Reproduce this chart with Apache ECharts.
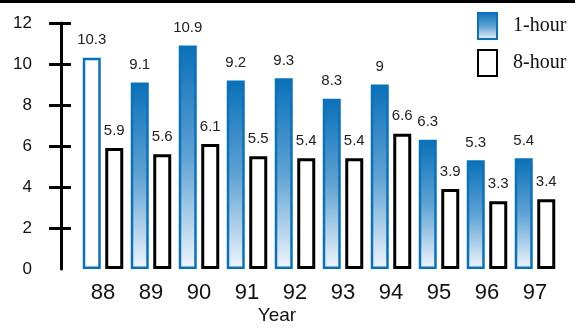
<!DOCTYPE html>
<html>
<head>
<meta charset="utf-8">
<script src="https://cdn.jsdelivr.net/npm/echarts@6/dist/echarts.min.js"></script>
<style>html,body{margin:0;padding:0;background:#fff;}#c{width:575px;height:331px;}</style>
</head>
<body>
<div id="c"></div>
<script>
var categories = ['88', '89', '90', '91', '92', '93', '94', '95', '96', '97'];
var oneHour = [10.3, 9.1, 10.9, 9.2, 9.3, 8.3, 9, 6.3, 5.3, 5.4];
var eightHour = [5.9, 5.6, 6.1, 5.5, 5.4, 5.4, 6.6, 3.9, 3.3, 3.4];
var yTicks = [0, 2, 4, 6, 8, 10, 12];
var yTickMarks = [2, 4, 6, 8, 10, 12];

var blue = '#0a72bb';
var grad = new echarts.graphic.LinearGradient(0, 0, 0, 1, [
  {offset: 0, color: '#0a70b9'},
  {offset: 0.5, color: '#5fa2d3'},
  {offset: 1, color: '#f0f6fc'}
]);

var oneHourData = oneHour.map(function (v, i) {
  if (i === 0) return {value: v, itemStyle: {color: '#ffffff', borderColor: blue}};
  return v;
});

var chart = echarts.init(document.getElementById('c'), null, {renderer: 'canvas'});
chart.setOption({
  animation: false,
  textStyle: {fontFamily: 'Liberation Sans, Arial, sans-serif'},
  grid: {left: 79, right: 16, top: 23, bottom: 62},
  legend: {
    orient: 'vertical',
    left: 477,
    top: 12,
    padding: 0,
    itemWidth: 19,
    itemHeight: 26,
    itemGap: 9,
    textStyle: {fontFamily: 'Liberation Serif, Times New Roman, serif', fontSize: 20, color: '#111', padding: [0, 0, 0, 11]},
    data: [
      {name: '1-hour', icon: 'rect'},
      {name: '8-hour', icon: 'rect'}
    ]
  },
  xAxis: {
    type: 'category',
    data: categories,
    axisLine: {show: false},
    axisTick: {show: false},
    axisLabel: {fontSize: 22, color: '#111', margin: 13}
  },
  yAxis: [{
    type: 'value',
    min: 0, max: 12, interval: 2,
    offset: 18,
    splitLine: {show: false},
    axisLine: {show: true, lineStyle: {color: '#000', width: 3}},
    axisTick: {show: true, length: 12, customValues: yTickMarks, lineStyle: {color: '#000', width: 3}},
    axisLabel: {fontSize: 17, color: '#111', margin: 29, customValues: yTicks}
  }, {
    type: 'value',
    position: 'left',
    min: 0, max: 12, interval: 2,
    offset: 18,
    splitLine: {show: false},
    axisLine: {show: false},
    axisTick: {show: true, inside: true, length: 10, customValues: yTickMarks, lineStyle: {color: '#000', width: 3}},
    axisLabel: {show: false}
  }],
  graphic: [
    {type: 'rect', left: 0, top: 0, shape: {width: 575, height: 3}, style: {fill: '#000'}},
    {type: 'text', x: 277, y: 316, style: {text: 'Year', fontSize: 19, fontFamily: 'Liberation Sans, Arial, sans-serif', fill: '#111', align: 'center', verticalAlign: 'middle'}}
  ],
  series: [{
    name: '1-hour',
    type: 'bar',
    data: oneHourData,
    barWidth: 18,
    barGap: '25%',
    itemStyle: {color: grad, borderColor: blue, borderWidth: 2.5},
    label: {show: true, position: 'top', distance: 10, fontSize: 15, color: '#222'}
  }, {
    name: '8-hour',
    type: 'bar',
    data: eightHour,
    barWidth: 18,
    barGap: '25%',
    itemStyle: {color: '#ffffff', borderColor: '#000', borderWidth: 3},
    label: {show: true, position: 'top', distance: 10, fontSize: 15, color: '#222'}
  }]
});
</script>
</body>
</html>
